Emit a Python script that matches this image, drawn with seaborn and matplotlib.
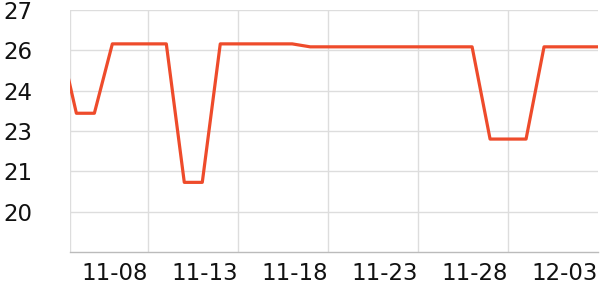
import matplotlib
matplotlib.use("Agg")
import matplotlib.pyplot as plt
import seaborn as sns
import pandas as pd

dates = ["2023-11-03", "2023-11-04", "2023-11-05", "2023-11-06", "2023-11-07", "2023-11-08",
         "2023-11-09", "2023-11-10", "2023-11-11", "2023-11-12", "2023-11-13", "2023-11-14",
         "2023-11-15", "2023-11-16", "2023-11-17", "2023-11-18", "2023-11-19", "2023-11-20",
         "2023-11-21", "2023-11-22", "2023-11-23", "2023-11-24", "2023-11-25", "2023-11-26",
         "2023-11-27", "2023-11-28", "2023-11-29", "2023-11-30", "2023-12-01", "2023-12-02",
         "2023-12-03"]
values = [26.1, 23.16, 23.16, 25.74, 25.74, 25.74,
          25.74, 20.59, 20.59, 25.74, 25.74, 25.74,
          25.74, 25.74, 25.63, 25.63, 25.63, 25.63,
          25.63, 25.63, 25.63, 25.63, 25.63, 25.63,
          22.2, 22.2, 22.2, 25.63, 25.63, 25.63,
          25.63]
y_ticks = [19.5, 21, 22.5, 24, 25.5, 27]
y_tick_labels = ["20", "21", "23", "24", "26", "27"]
x_tick_dates = ["2023-11-08", "2023-11-13", "2023-11-18", "2023-11-23", "2023-11-28", "2023-12-03"]

df = pd.DataFrame({"date": pd.to_datetime(dates), "value": values})

sns.set_style("white")
plt.rcParams['font.family'] = ['DejaVu Sans']

fig = plt.figure(figsize=(6, 3), dpi=100)
ax = fig.add_axes([70/600, 48/300, 528/600, 242/300])

sns.lineplot(data=df, x="date", y="value", ax=ax, color="#EE4B2B", linewidth=2.3)

x_left = pd.Timestamp("2023-11-03 15:30")
x_right = pd.Timestamp("2023-12-03 00:00")
ax.set_xlim(x_left, x_right)
ax.set_ylim(18, 27)

xt = [x_left] + list(pd.to_datetime(x_tick_dates))
ax.set_xticks(xt)
ax.set_xticklabels([""] + [pd.Timestamp(d).strftime("%m-%d") for d in x_tick_dates])
ax.set_yticks(y_ticks)
ax.set_yticklabels(y_tick_labels)

ax.grid(True, color="#DDDDDD", linewidth=1)
ax.set_axisbelow(True)
ax.xaxis.get_gridlines()[-1].set_visible(False)
for s in ["top", "right", "left"]:
    ax.spines[s].set_visible(False)
ax.spines["bottom"].set_color("#BBBBBB")
ax.spines["bottom"].set_linewidth(1)

ax.tick_params(axis="x", length=3, width=1, color="#BBBBBB", pad=4, labelsize=16.5, labelcolor="#111111")
ax.tick_params(axis="y", length=0, pad=27, labelsize=16.5, labelcolor="#111111")
for lbl in ax.get_xticklabels():
    lbl.set_horizontalalignment("right")
ax.set_xlabel("")
ax.set_ylabel("")

fig.savefig("out.png", dpi=100)
